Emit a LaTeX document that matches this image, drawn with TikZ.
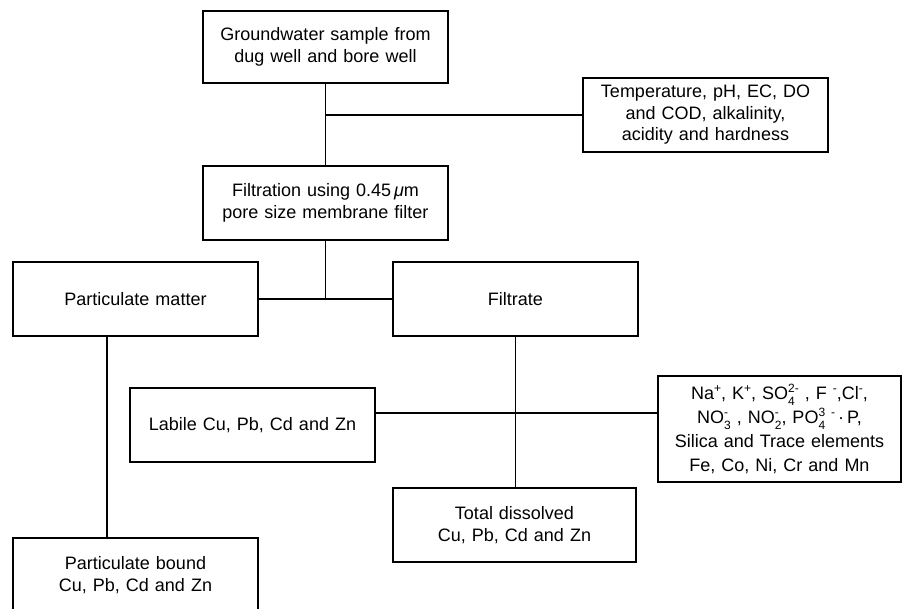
\documentclass[tikz,border=0pt]{standalone}
\usepackage{fontspec}
\setmainfont{Liberation Sans}
\newsavebox\subbox
\newsavebox\supbox
\newcommand\sps[1]{\raisebox{0.8ex}{\fontsize{12}{12}\selectfont #1}}
\newcommand\sbs[1]{\raisebox{-0.55ex}{\fontsize{12}{12}\selectfont #1}}
\newcommand\sbsp[2]{\sbox\subbox{\sbs{#1}}\sbox\supbox{\sps{#2}}%
  \ifdim\wd\subbox>\wd\supbox\rlap{\usebox\supbox}\usebox\subbox\else\rlap{\usebox\subbox}\usebox\supbox\fi}
\begin{document}
\begin{tikzpicture}[x=1pt,y=-1pt,
  box/.style={draw, line width=1.1pt, minimum width=245pt, minimum height=74pt,
    text width=235pt, align=center, inner sep=0pt,
    font=\fontsize{18}{21.5}\selectfont},
  conn/.style={line width=1.1pt}]
\useasboundingbox (0,0) rectangle (908,609);
\clip (0,0) rectangle (908,609);
\fill[white] (0,0) rectangle (908,609);
\node[box, minimum height=72pt] (g) at (325.5,47) {Groundwater sample from\\dug well and bore well};
\node[box] (t) at (705.5,115) {Temperature, pH, EC, DO\\and COD, alkalinity,\\acidity and hardness};
\node[box] (f) at (325.5,203) {Filtration using 0.45\,\textit{μ}m\\pore size membrane filter};
\node[box] (pm) at (135.5,299) {Particulate matter};
\node[box] (fl) at (515.5,299) {Filtrate};
\node[box] (lab) at (252.5,425) {Labile Cu, Pb, Cd and Zn};
\node[box, minimum width=243pt, minimum height=106pt, font=\fontsize{18}{24}\selectfont] (na) at (779.5,429)
  {Na\sps{+}, K\sps{+}, SO\sbsp{4}{2-} , F\sps{ -},Cl\sps{-},\\
   NO\sbsp{3}{-} , NO\sbsp{2}{-}, PO\sbsp{4}{3 -}\,·\,P,\\
   Silica and Trace elements\\Fe, Co, Ni, Cr and Mn};
\node[box, minimum width=243pt] (td) at (514.5,525) {Total dissolved\\Cu, Pb, Cd and Zn};
\node[box] (pb) at (135.5,575) {Particulate bound\\Cu, Pb, Cd and Zn};
% connectors
\draw[conn] (g.south) -- (f.north);
\coordinate (j1) at (g.south |- t.west);
\draw[conn] (j1) -- (t.west);
\draw[conn] (pm.east) -- (fl.west);
\draw[conn] (f.south) -- (f.south |- pm.east);
\coordinate (pmb) at ([xshift=-28.5pt]pm.south);
\draw[conn] (pmb) -- (pmb |- pb.north);
\draw[conn] (fl.south) -- (fl.south |- td.north);
\coordinate (lj) at ([yshift=12pt]lab.east);
\draw[conn] (lj) -- (lj -| na.west);
\end{tikzpicture}
\end{document}
